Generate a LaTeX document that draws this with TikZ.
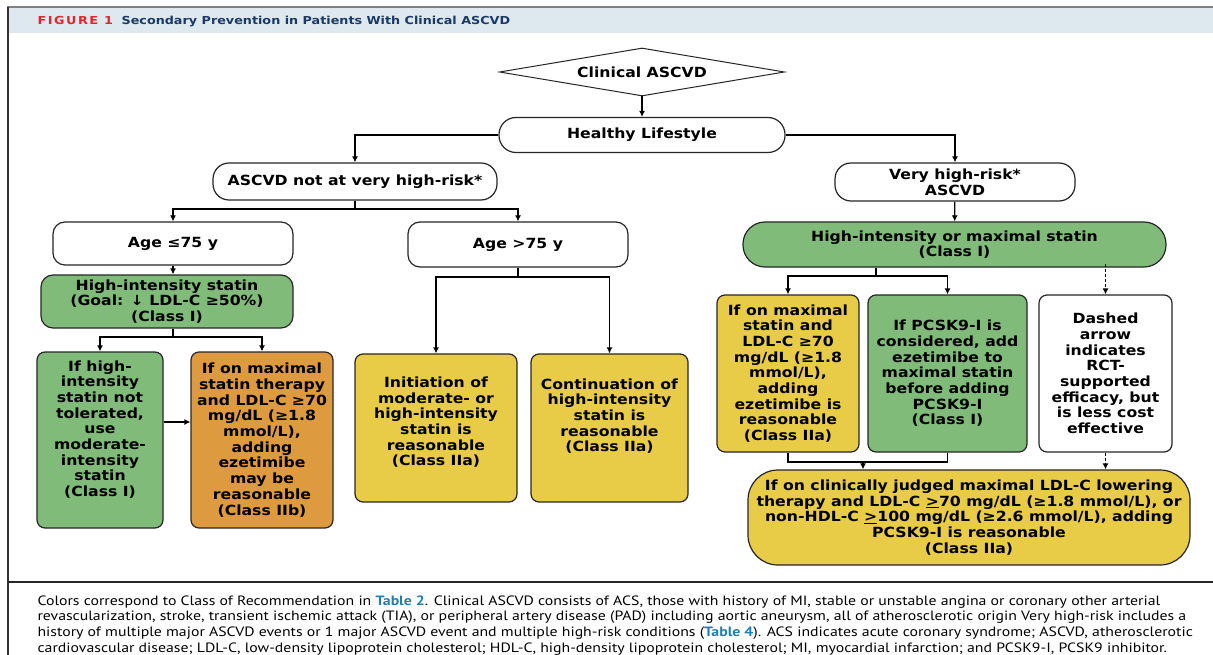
\documentclass[tikz,border=0pt]{standalone}
\usepackage{fontspec}
\usepackage{xcolor}
\usepackage{tikz}
\usetikzlibrary{shapes.geometric,arrows.meta}
\newfontfamily\boxfont[FakeStretch=1.12]{DejaVu Sans}
\newfontfamily\headfont[FakeStretch=1.16]{DejaVu Sans}
\newfontfamily\capfont[FakeStretch=1.17]{PT Sans}
\definecolor{ClassI}{HTML}{80BB7A}
\definecolor{ClassIIa}{HTML}{E8CC47}
\definecolor{ClassIIb}{HTML}{DE9A3E}
\definecolor{HeadBand}{HTML}{DDE8EF}
\definecolor{HeadNavy}{HTML}{1B3A63}
\definecolor{HeadRed}{HTML}{E4252E}
\definecolor{TabBlue}{HTML}{1F7FB0}

\begin{document}
\begin{tikzpicture}[x=1pt,y=-1pt,>={Latex[length=6pt,width=6pt]},
                    box/.style={draw=black!85, line width=1.2pt, align=center, inner sep=0pt,
                                font=\boxfont\bfseries\fontsize{14}{15.7}\selectfont},
                    every path/.style={line width=1.2pt}]
\useasboundingbox (0,0) rectangle (1213,655);
\fill[white] (0,0) rectangle (1213,655);
% frame and header
\fill[HeadBand] (9,8) rectangle (1213,33);
\draw[black!50, line width=2pt] (7,7) -- (1213,7);
\draw[black!80, line width=1.3pt] (8,7) -- (8,655);
\draw[black!85] (8,582) -- (1213,582);
\node[anchor=base west, inner sep=0pt, text=HeadRed,
      font=\headfont\bfseries\fontsize{11}{13}\selectfont] (fig) at (37,25)
      {\addfontfeature{LetterSpace=14}FIGURE 1};
\node[anchor=base west, inner sep=0pt, text=HeadNavy,
      font=\headfont\bfseries\fontsize{11}{13}\selectfont] (title) at (121,25)
      {Secondary Prevention in Patients With Clinical ASCVD};
% top of the tree
\node[box, diamond, aspect=5.9, line width=1pt, minimum width=285pt, minimum height=48pt] (clin) at (642,72) {Clinical ASCVD};
\node[box, rounded corners=17pt, minimum width=286pt, minimum height=35pt] (life) at (642,135) {Healthy Lifestyle};
\node[box, rounded corners=16pt, minimum width=284pt, minimum height=37pt] (notvh) at (355,181.5) {ASCVD not at very high-risk*};
\node[box, rounded corners=16pt, minimum width=240pt, minimum height=38pt] (vh) at (955,182) {Very high-risk*\\ASCVD};
% not at very high risk
\node[box, rounded corners=12pt, minimum width=240pt, minimum height=43pt] (young) at (173,243.5) {Age ≤75 y};
\node[box, rounded corners=12pt, minimum width=220pt, minimum height=45pt] (old) at (518,244.5) {Age >75 y};
\node[box, fill=ClassI, rounded corners=12pt, minimum width=252pt, minimum height=53pt] (hist) at (167,301.5)
     {High-intensity statin\\(Goal: ↓ LDL-C ≥50\%)\\(Class I)};
\node[box, fill=ClassI, rounded corners=8pt, minimum width=126pt, minimum height=176pt, text depth=23pt] (intol) at (100,440)
     {If high-\\intensity\\statin not\\tolerated,\\use\\moderate-\\intensity\\statin\\(Class I)};
\node[box, fill=ClassIIb, rounded corners=8pt, minimum width=142pt, minimum height=176pt] (ezeb) at (262,440)
     {If on maximal\\statin therapy\\and LDL-C ≥70\\mg/dL (≥1.8\\mmol/L),\\adding\\ezetimibe\\may be\\reasonable\\(Class IIb)};
\node[box, fill=ClassIIa, rounded corners=8pt, minimum width=162pt, minimum height=148pt, text depth=13.5pt] (init) at (436,428)
     {Initiation of\\moderate- or\\high-intensity\\statin is\\reasonable\\(Class IIa)};
\node[box, fill=ClassIIa, rounded corners=8pt, minimum width=157pt, minimum height=148pt, text depth=25.5pt] (cont) at (609.5,428)
     {Continuation of\\high-intensity\\statin is\\reasonable\\(Class IIa)};
% very high risk
\node[box, fill=ClassI, rounded corners=22pt, minimum width=423pt, minimum height=45pt] (vhstat) at (954.5,244.5)
     {High-intensity or maximal statin\\(Class I)};
\node[box, fill=ClassIIa, rounded corners=8pt, minimum width=142pt, minimum height=157pt] (ezea) at (788,373.5)
     {If on maximal\\statin and\\LDL-C ≥70\\mg/dL (≥1.8\\mmol/L),\\adding\\ezetimibe is\\reasonable\\(Class IIa)};
\node[box, fill=ClassI, rounded corners=8pt, minimum width=159pt, minimum height=157pt] (pcsk) at (947.5,373.5)
     {If PCSK9-I is\\considered, add\\ezetimibe to\\maximal statin\\before adding\\PCSK9-I\\(Class I)};
\node[box, fill=white, rounded corners=8pt, minimum width=133pt, minimum height=157pt] (dash) at (1105.5,373.5)
     {Dashed\\arrow\\indicates\\RCT-\\supported\\efficacy, but\\is less cost\\effective};
\node[box, fill=ClassIIa, rounded corners=30pt, minimum width=442pt, minimum height=95pt] (pcski) at (969,517.5)
     {If on clinically judged maximal LDL-C lowering\\therapy and LDL-C \underline{>}70 mg/dL (≥1.8 mmol/L), or\\non-HDL-C \underline{>}100 mg/dL (≥2.6 mmol/L), adding\\PCSK9-I is reasonable\\(Class IIa)};
% junctions
\coordinate (j1) at (355,209);
\coordinate (j2) at (173,337);
\coordinate (j3) at (518,277);
\coordinate (j4) at (876,276);
\coordinate (j5) at (863,462);
% connectors
\draw[->] (clin) -- (life);
\draw[->] (life.west) -| (notvh.north);
\draw[->] (life.east) -| (vh.north);
\draw (notvh) -- (j1);
\draw[->] (j1) -| (young.north);
\draw[->] (j1) -| (old.north);
\draw[->] (young) -- (young |- hist.north);
\draw (hist.south -| j2) -- (j2);
\draw[->] (j2) -| (intol.north);
\draw[->] (j2) -| (ezeb.north);
\draw[->] ([yshift=18pt]intol.east) -- ([yshift=18pt]ezeb.west);
\draw (old) -- (j3);
\draw[->] (j3) -| (init.north);
\draw[->] (j3) -| (cont.north);
\draw[->] (vh) -- (vhstat);
\draw (vhstat.south -| j4) -- (j4);
\draw[->] (j4) -| (ezea.north);
\draw[->] (j4) -| (pcsk.north);
\draw[->, dash pattern=on 3pt off 2pt] ([yshift=4pt]vhstat.south -| dash.north) -- (dash.north);
\draw (ezea.south) |- (j5);
\draw (pcsk.south) |- (j5);
\draw[->] (j5) -- (j5 |- pcski.north);
\draw[->, dash pattern=on 3pt off 2pt] (dash.south) -- (dash.south |- pcski.north);
% caption
\node[anchor=north west, align=left, inner sep=0pt,
      font=\capfont\fontsize{13.5}{15.7}\selectfont] (note) at (37,595)
{Colors correspond to Class of Recommendation in \textcolor{TabBlue}{\bfseries Table 2}. Clinical ASCVD consists of ACS, those with history of MI, stable or unstable angina or coronary other arterial\\
revascularization, stroke, transient ischemic attack (TIA), or peripheral artery disease (PAD) including aortic aneurysm, all of atherosclerotic origin Very high-risk includes a\\
history of multiple major ASCVD events or 1 major ASCVD event and multiple high-risk conditions (\textcolor{TabBlue}{\bfseries Table 4}). ACS indicates acute coronary syndrome; ASCVD, atherosclerotic\\
cardiovascular disease; LDL-C, low-density lipoprotein cholesterol; HDL-C, high-density lipoprotein cholesterol; MI, myocardial infarction; and PCSK9-I, PCSK9 inhibitor.};
\end{tikzpicture}
\end{document}
